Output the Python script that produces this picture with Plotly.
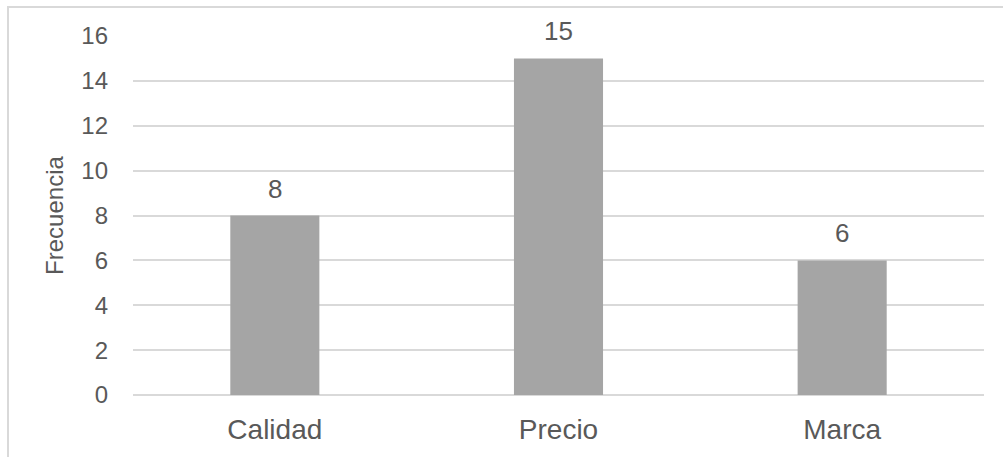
import plotly.graph_objects as go

categorias = ["Calidad", "Precio", "Marca"]
frecuencias = [8, 15, 6]
ticks_y = [0, 2, 4, 6, 8, 10, 12, 14, 16]

TEXTO = "#595959"
BARRA = "#A5A5A5"
REJILLA = "#D9D9D9"
FUENTE = "Liberation Sans, Arial, sans-serif"

fig = go.Figure(
    go.Bar(
        x=categorias,
        y=frecuencias,
        marker=dict(color=BARRA, line=dict(width=0)),
        width=0.314,
        hoverinfo="skip",
    )
)

# Etiquetas de valor sobre cada barra
for cat, val in zip(categorias, frecuencias):
    fig.add_annotation(
        x=cat, y=val, text=str(val), showarrow=False,
        yanchor="bottom", yshift=10,
        font=dict(family=FUENTE, size=26, color=TEXTO),
    )

# Marco del gráfico
fig.add_shape(
    type="rect", xref="paper", yref="paper",
    x0=-0.1469, x1=1.2, y0=-0.5, y1=1.0808,
    line=dict(color=REJILLA, width=2), layer="below",
)

fig.update_layout(
    width=1003, height=457,
    margin=dict(l=133, r=19, t=36, b=62),
    paper_bgcolor="white", plot_bgcolor="white",
    showlegend=False,
    font=dict(family=FUENTE, color=TEXTO),
    xaxis=dict(
        showgrid=False, showline=False, zeroline=False,
        ticks="", tickfont=dict(size=28, color=TEXTO),
        ticklabelstandoff=15,
    ),
    yaxis=dict(
        range=[0, 16], tickvals=ticks_y,
        showgrid=True, gridcolor=REJILLA, gridwidth=2,
        zeroline=True, zerolinecolor=REJILLA, zerolinewidth=2,
        showline=False, ticks="",
        tickfont=dict(size=24, color=TEXTO),
        ticklabelstandoff=24,
        title=dict(text="Frecuencia", font=dict(size=24, color=TEXTO), standoff=10),
        automargin=False,
    ),
)

fig.write_html("out.html")
